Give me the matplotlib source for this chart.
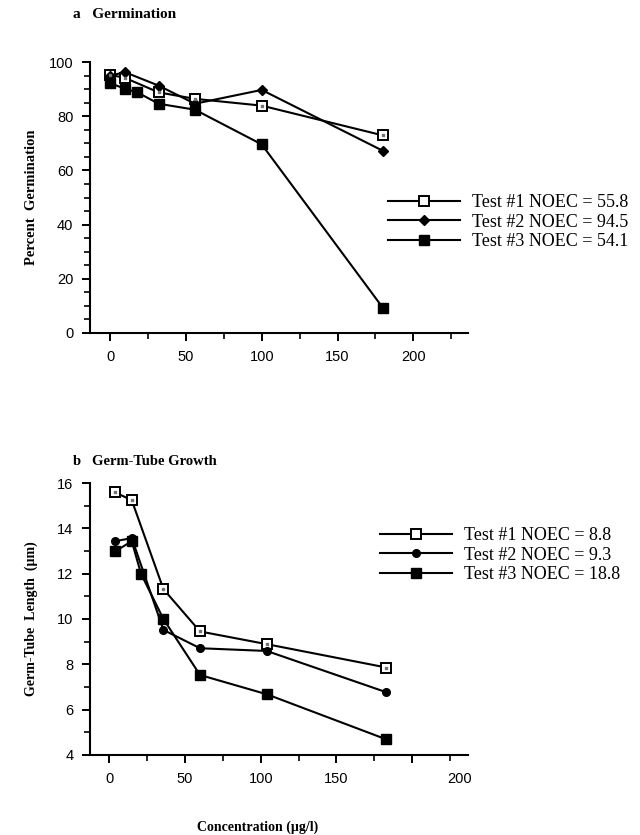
import matplotlib
matplotlib.use("Agg")
import matplotlib.pyplot as plt
from matplotlib.ticker import MultipleLocator
from matplotlib.transforms import ScaledTranslation

SERIF = ["Liberation Serif", "DejaVu Serif"]
SANS = ["Liberation Sans", "DejaVu Sans"]

# panel a - germination
germ_x1 = [0, 10, 32, 56, 100, 180]
germ_y1 = [95.3, 94.1, 88.8, 86.4, 83.9, 72.9]
germ_x2 = [0, 10, 32, 56, 100, 180]
germ_y2 = [95.0, 96.2, 91.3, 84.6, 89.7, 67.2]
germ_x3 = [0, 10, 18, 32, 56, 100, 180]
germ_y3 = [92.2, 90.1, 88.8, 84.6, 82.4, 69.6, 9.2]
germ_labels = ["Test #1 NOEC = 55.8", "Test #2 NOEC = 94.5", "Test #3 NOEC = 54.1"]

# panel b - germ-tube growth
tube_x1 = [3.7, 14.8, 35.7, 59.9, 104, 183]
tube_y1 = [15.59, 15.24, 11.32, 9.45, 8.89, 7.86]
tube_x2 = [3.7, 14.8, 35.7, 59.9, 104, 183]
tube_y2 = [13.43, 13.57, 9.52, 8.71, 8.59, 6.77]
tube_x3 = [3.7, 14.8, 20.9, 35.7, 59.9, 104, 183]
tube_y3 = [12.98, 13.43, 12.0, 10.0, 7.53, 6.68, 4.69]
tube_labels = ["Test #1 NOEC = 8.8", "Test #2 NOEC = 9.3", "Test #3 NOEC = 18.8"]

fig = plt.figure(figsize=(6.4, 8.35), dpi=100)
W, H = 640, 835


def make_axes(top_px, bottom_px):
    return fig.add_axes([90 / W, 1 - bottom_px / H, 378 / W, (bottom_px - top_px) / H])


def style_axes(ax):
    for s in ["top", "right"]:
        ax.spines[s].set_visible(False)
    for s in ["left", "bottom"]:
        ax.spines[s].set_linewidth(1.5)
    ax.tick_params(which="major", direction="out", length=6, width=1.4, labelsize=10.5, pad=6)
    ax.tick_params(which="minor", direction="out", length=4, width=1.2)
    for lab in ax.get_xticklabels() + ax.get_yticklabels():
        lab.set_family(SANS)


line_kw = dict(color="black", lw=1.5)
open_kw = dict(marker="s", ms=7, mfc="white", mec="black", mew=1.4)
leg_kw = dict(loc="center left", frameon=False, handlelength=4.0, handletextpad=0.65,
              labelspacing=0.14, prop={"family": SERIF, "size": 13}, borderaxespad=0, borderpad=0)

# ---- panel a
ax1 = make_axes(62, 333)
l1, = ax1.plot(germ_x1, germ_y1, **line_kw, **open_kw, label=germ_labels[0])
l2, = ax1.plot(germ_x2, germ_y2, **line_kw, marker="D", ms=5.5, mfc="black", mec="black", label=germ_labels[1])
l3, = ax1.plot(germ_x3, germ_y3, **line_kw, marker="s", ms=7, mfc="black", mec="black", label=germ_labels[2])
ax1.plot(germ_x1, germ_y1, ls="none", marker="s", ms=2, color="0.45")
ax1.set_xlim(-13.2, 236)
ax1.set_ylim(0, 100)
ax1.xaxis.set_major_locator(MultipleLocator(50))
ax1.xaxis.set_minor_locator(MultipleLocator(25))
ax1.yaxis.set_major_locator(MultipleLocator(20))
ax1.yaxis.set_minor_locator(MultipleLocator(5))
style_axes(ax1)
ax1.set_ylabel("Percent  Germination", family=SERIF, fontweight="bold", fontsize=10.5)
ax1.yaxis.set_label_coords(-0.138, 0.5)
ax1.legend(handles=[l1, l2, l3], bbox_to_anchor=((388 - 90) / 378, (333 - 222) / 271), **leg_kw)
fig.text(73 / W, 1 - 15 / H, "a   Germination", family=SERIF, fontweight="bold", fontsize=11,
         va="center", ha="left")

# ---- panel b
ax2 = make_axes(483, 755)
m1, = ax2.plot(tube_x1, tube_y1, **line_kw, **open_kw, label=tube_labels[0])
m2, = ax2.plot(tube_x2, tube_y2, **line_kw, marker="o", ms=5.5, mfc="black", mec="black", label=tube_labels[1])
m3, = ax2.plot(tube_x3, tube_y3, **line_kw, marker="s", ms=7, mfc="black", mec="black", label=tube_labels[2])
ax2.plot(tube_x1, tube_y1, ls="none", marker="s", ms=2, color="0.45")
ax2.set_xlim(-12.8, 237)
ax2.set_ylim(4, 16)
ax2.set_xticks([0, 50, 100, 150, 200])
ax2.xaxis.set_minor_locator(MultipleLocator(25))
ax2.yaxis.set_major_locator(MultipleLocator(2))
ax2.yaxis.set_minor_locator(MultipleLocator(1))
style_axes(ax2)
# the "200" label sits well to the right of its tick in the original
last = ax2.get_xticklabels()[-1]
last.set_transform(last.get_transform() + ScaledTranslation(0.48, 0, fig.dpi_scale_trans))
ax2.set_ylabel("Germ-Tube  Length  (\u00b5m)", family=SERIF, fontweight="bold", fontsize=10)
ax2.yaxis.set_label_coords(-0.138, 0.5)
ax2.legend(handles=[m1, m2, m3], bbox_to_anchor=((380 - 90) / 378, (755 - 555) / 272), **leg_kw)
fig.text(73 / W, 1 - 462 / H, "b   Germ-Tube Growth", family=SERIF, fontweight="bold", fontsize=10.5,
         va="center", ha="left")

fig.text(258 / W, 1 - 827 / H, "Concentration (\u00b5g/l)", family=SERIF, fontweight="bold", fontsize=10,
         va="center", ha="center")

fig.savefig("out.png", dpi=100)
